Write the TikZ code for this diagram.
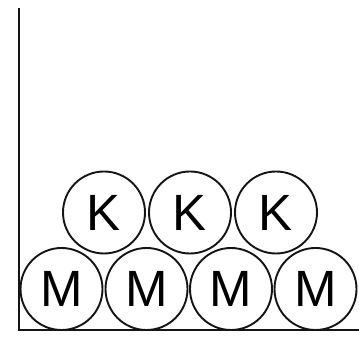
\documentclass[tikz,border=0pt]{standalone}
\usepackage{fontspec}
\setmainfont{Liberation Sans}
\usepackage{tikz}
\usetikzlibrary{positioning}
\definecolor{inkblack}{RGB}{20,20,20}

\begin{document}
\begin{tikzpicture}[x=1pt, y=1pt,
  ball/.style={draw=inkblack, circle, line width=1.9pt, minimum size=82pt, inner sep=0pt,
    font=\fontsize{51}{51}\selectfont}]
\useasboundingbox (0,0) rectangle (359,342);
% container
\coordinate (walltop) at (18.5,334);
\coordinate (corner) at (18.5,12);
\coordinate (floorend) at (359,12);
\draw[line width=2pt, color=inkblack] (walltop) -- (corner) -- (floorend);
% bottom row
\node[ball] (m1) at (61.5,53) {M};
\node[ball] (m2) at (146.5,53) {M};
\node[ball] (m3) at (231,53) {M};
\node[ball] (m4) at (315.5,53) {M};
% top row
\node[ball] (k1) at (104,129.5) {K};
\node[ball] (k2) at (190,129.5) {K};
\node[ball] (k3) at (276,129.5) {K};
\end{tikzpicture}
\end{document}
